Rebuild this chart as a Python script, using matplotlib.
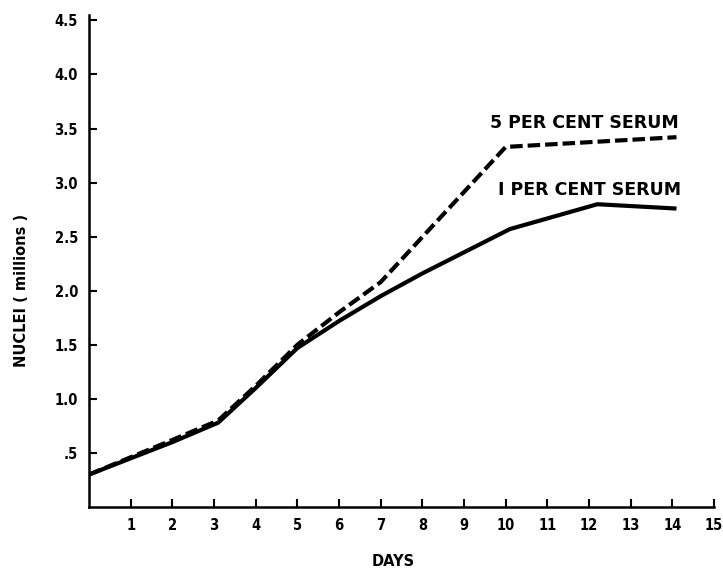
import matplotlib
matplotlib.use("Agg")
import matplotlib.pyplot as plt

# Data
days_1pct = [0, 1, 2, 3.1, 4, 5, 6, 7, 8, 10.1, 12.2, 14.1]
nuclei_1pct = [0.30, 0.45, 0.60, 0.78, 1.10, 1.47, 1.72, 1.95, 2.16, 2.57, 2.80, 2.76]
days_5pct = [0, 1, 2, 3.1, 4, 5, 6, 7, 10.0, 14.1]
nuclei_5pct = [0.30, 0.46, 0.62, 0.80, 1.12, 1.50, 1.80, 2.08, 3.33, 3.42]
x_ticks = list(range(1, 16))
y_ticks = [0.5, 1.0, 1.5, 2.0, 2.5, 3.0, 3.5, 4.0, 4.5]
y_tick_labels = [".5", "1.0", "1.5", "2.0", "2.5", "3.0", "3.5", "4.0", "4.5"]

plt.rcParams['font.family'] = ["DejaVu Sans"]

fig = plt.figure(figsize=(7.23, 5.69), dpi=100)
ax = fig.add_axes([89/723, 62/569, (714-89)/723, (554-62)/569])

ax.plot(days_1pct, nuclei_1pct, color="black", lw=3.0, solid_capstyle="butt")
ax.plot(days_5pct, nuclei_5pct, color="black", lw=3.0, linestyle=(0, (3, 1.2)), dash_capstyle="butt")

ax.set_xlim(0, 15)
ax.set_ylim(0, 4.55)
ax.set_xticks(x_ticks)
ax.set_xticklabels([str(t) for t in x_ticks], fontsize=10.5, fontweight="bold", stretch="condensed")
ax.set_yticks(y_ticks)
ax.set_yticklabels(y_tick_labels, fontsize=10.5, fontweight="bold", stretch="condensed")
ax.tick_params(direction="in", length=6, width=1.5, pad=8)
for s in ["top", "right"]:
    ax.spines[s].set_visible(False)
for s in ["left", "bottom"]:
    ax.spines[s].set_linewidth(1.8)

ax.text(14.15, 3.47, "5 PER CENT SERUM", ha="right", va="bottom", fontsize=12.5, fontweight="bold")
ax.text(14.2, 2.85, "I PER CENT SERUM", ha="right", va="bottom", fontsize=12.5, fontweight="bold")

fig.text(393/723, 1 - 562/569, "DAYS", ha="center", va="center", fontsize=10.5, fontweight="bold")
fig.text(22/723, 1 - 290/569, "NUCLEI ( millions )", ha="center", va="center", rotation=90,
         fontsize=10.5, fontweight="bold")

fig.savefig("out.png", dpi=100)
